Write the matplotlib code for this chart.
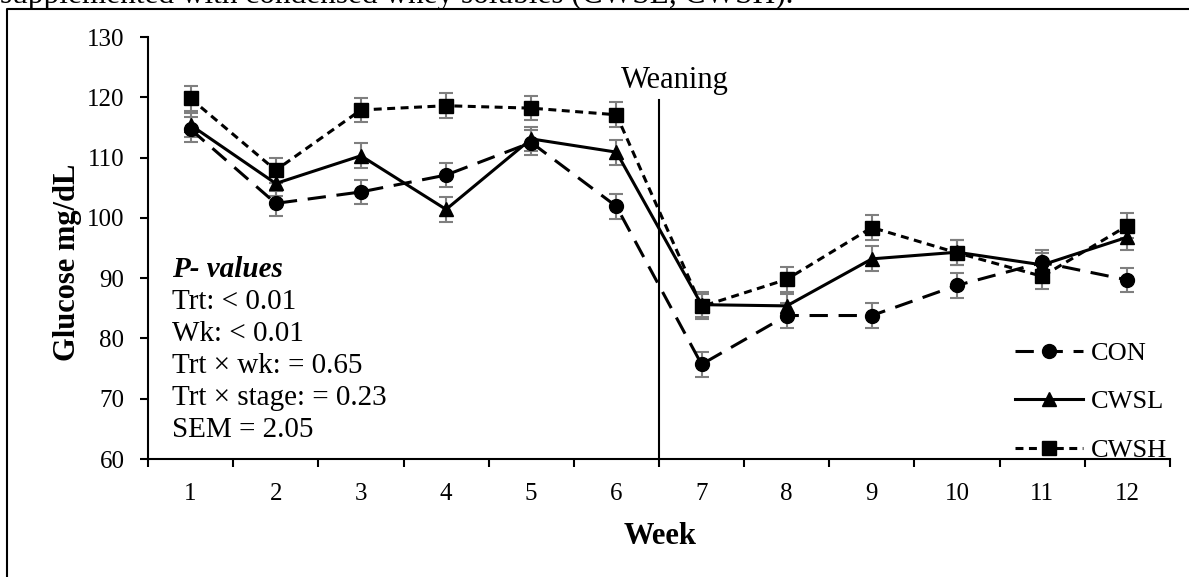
import numpy as np
import matplotlib
matplotlib.use("Agg")
import matplotlib.pyplot as plt
from matplotlib.lines import Line2D

plt.rcParams["font.family"] = ["Liberation Serif", "DejaVu Serif"]

weeks = np.arange(1, 13)
week_labels = [str(w) for w in weeks]
con = [114.7, 102.4, 104.3, 107.1, 112.5, 101.9, 75.7, 83.8, 83.8, 88.8, 92.6, 89.7]
cwsl = [115.4, 105.7, 110.3, 101.4, 113.1, 110.9, 85.6, 85.4, 93.2, 94.3, 92.2, 96.8]
cwsh = [119.8, 107.9, 117.9, 118.6, 118.2, 117.1, 85.3, 89.8, 98.4, 94.2, 90.3, 98.7]
sem = 2.05
weaning_week = 6.5

pvalue_lines = ["Trt: < 0.01", "Wk: < 0.01", "Trt \u00d7 wk: = 0.65",
                "Trt \u00d7 stage: = 0.23", "SEM = 2.05"]

W, H = 1189, 577
fig = plt.figure(figsize=(W / 100, H / 100), dpi=100)
ax = fig.add_axes([148 / W, 1 - 459 / H, (1170 - 148) / W, (459 - 37) / H])

# error bars first, grey, behind the lines
for vals in (con, cwsl, cwsh):
    ax.errorbar(weeks, vals, yerr=sem, fmt="none", ecolor="#7f7f7f",
                elinewidth=1.5, capsize=5, capthick=1.5, zorder=2)

lw = 2.2
l1, = ax.plot(weeks, con, color="black", lw=lw, dashes=(6, 3.5), marker="o",
              ms=10, label="CON", zorder=3)
l2, = ax.plot(weeks, cwsl, color="black", lw=lw, marker="^", ms=10,
              label="CWSL", zorder=3)
l3, = ax.plot(weeks, cwsh, color="black", lw=lw, dashes=(2.6, 1.8), marker="s",
              ms=10, label="CWSH", zorder=3)

# weaning marker
ax.plot([weaning_week, weaning_week], [60, 119.5], color="black", lw=1.5, zorder=1)
ax.text(weaning_week + 0.18, 121.5, "Weaning", fontsize=22, ha="center", va="baseline")

ax.set_xlim(0.5, 12.5)
ax.set_ylim(60, 130)
ax.set_yticks(np.arange(60, 131, 10))
ax.set_xticks(weeks)
ax.set_xticklabels(week_labels)
ax.set_xticks(np.arange(0.5, 12.6, 1), minor=True)
ax.tick_params(axis="x", which="major", length=0, pad=17, labelsize=18)
ax.tick_params(axis="x", which="minor", length=6, width=1.5, direction="out")
ax.tick_params(axis="y", length=6, width=1.5, pad=11, labelsize=18)
for s in ("top", "right"):
    ax.spines[s].set_visible(False)
for s in ("left", "bottom"):
    ax.spines[s].set_linewidth(1.5)

# P-values block
ax.text(172 / W, 0, "", transform=fig.transFigure)
fig.text(172 / W, 1 - 277 / H, "P- values", fontsize=21, fontweight="bold",
         fontstyle="italic", va="baseline")
for i, line in enumerate(pvalue_lines):
    fig.text(172 / W, 1 - (309 + 32 * i) / H, line, fontsize=21, va="baseline")

leg = ax.legend(handles=[l1, l2, l3], loc="center left",
                bbox_to_anchor=(0.848, 0.136), frameon=False, fontsize=19,
                handlelength=2.6, handletextpad=0.3, labelspacing=0.95,
                borderpad=0, borderaxespad=0)

fig.text(67 / W, 1 - 262 / H, "Glucose mg/dL", rotation=90, fontsize=22,
         fontweight="bold", ha="center", va="center")
fig.text(660 / W, 1 - 537 / H, "Week", fontsize=22, fontweight="bold",
         ha="center", va="center")

# caption fragment and frame from the surrounding document
fig.text(0, 1 - 3 / H, "supplemented with condensed whey solubles (CWSL, CWSH).",
         fontsize=22.5, va="baseline", ha="left")
fig.add_artist(Line2D([7 / W, 7 / W, 1.01], [-0.01, 1 - 9 / H, 1 - 9 / H],
                      transform=fig.transFigure, color="black", lw=1.5))

fig.savefig("out.png", dpi=100)
